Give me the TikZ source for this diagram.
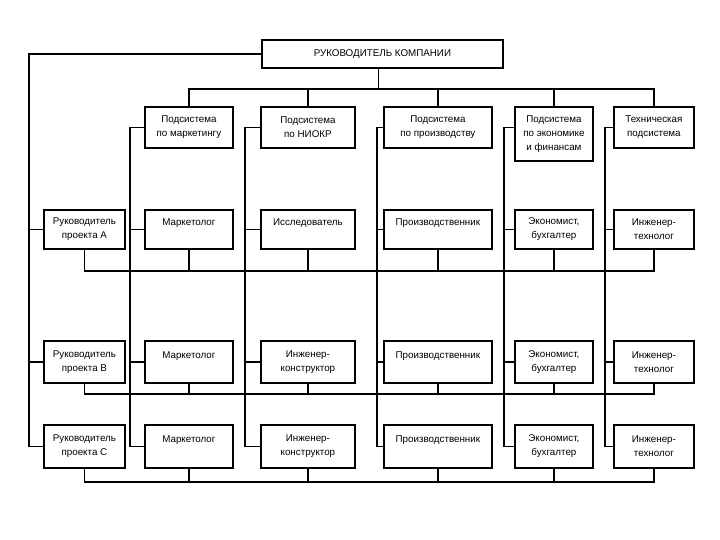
\documentclass[tikz,border=0pt]{standalone}
\usepackage{fontspec}
\setmainfont{Liberation Sans}
\usetikzlibrary{positioning, calc}

\tikzset{
  unit/.style={draw, line width=1.8pt, anchor=north west, inner sep=1pt, align=center,
    font=\fontsize{9.8}{14}\selectfont},
  link/.style={line width=1.5pt},
}

\begin{document}
\begin{tikzpicture}[x=1pt, y=-1pt]
\useasboundingbox (0,0) rectangle (720,540);

% head of the company
\node[unit, minimum width=241pt, minimum height=28pt] (ceo) at (261,39) {РУКОВОДИТЕЛЬ КОМПАНИИ};

% subsystems
\node[unit, minimum width=88pt, minimum height=41pt] (sysM) at (144,106) {Подсистема\\по маркетингу};
\node[unit, minimum width=94pt, minimum height=41pt] (sysN) at (260,106) {Подсистема\\по НИОКР};
\node[unit, minimum width=108pt, minimum height=41pt] (sysP) at (383,106) {Подсистема\\по производству};
\node[unit, minimum width=78pt, minimum height=54pt] (sysE) at (514,106) {Подсистема\\по экономике\\и финансам};
\node[unit, minimum width=80pt, minimum height=41pt] (sysT) at (613,106) {Техническая\\подсистема};

% project rows
\foreach \r/\y/\h/\p in {1/209/39/A, 2/340/42/B, 3/424/43/C} {
  \node[unit, minimum width=81pt, minimum height=\h pt] (head\r) at (43,\y) {Руководитель\\проекта \p};
  \node[unit, minimum width=88pt, minimum height=\h pt] (mar\r) at (144,\y) {Маркетолог\\\phantom{М}};
  \node[unit, minimum width=108pt, minimum height=\h pt] (pro\r) at (383,\y) {Производственник\\\phantom{П}};
  \node[unit, minimum width=78pt, minimum height=\h pt] (eco\r) at (514,\y) {Экономист,\\бухгалтер};
  \node[unit, minimum width=80pt, minimum height=\h pt] (tec\r) at (613,\y) {Инженер-\\технолог};
}
\node[unit, minimum width=94pt, minimum height=39pt] (nio1) at (260,209) {Исследователь\\\phantom{И}};
\node[unit, minimum width=94pt, minimum height=42pt] (nio2) at (260,340) {Инженер-\\конструктор};
\node[unit, minimum width=94pt, minimum height=43pt] (nio3) at (260,424) {Инженер-\\конструктор};

% top bus
\coordinate (bus) at ($(ceo.south)+(-4,20)$);
\draw[link] (ceo.south -| bus) -- (bus);
\draw[link] (sysM.north) |- (bus) -| (sysT.north);
\foreach \s in {sysN, sysP, sysE}
  \draw[link] (\s.north) -- (\s.north |- bus);

% line of the head to project leaders
\draw[link] (ceo.west) -| ($(head3.west)+(-14,0)$) -- (head3.west);
\draw[link] ($(head1.west)+(-14,0)$) -- (head1.west);
\draw[link] ($(head2.west)+(-14,0)$) -- (head2.west);

% columns of the subsystems
\foreach \s/\n/\o in {sysM/mar/14, sysN/nio/15, sysP/pro/6, sysE/eco/10, sysT/tec/8} {
  \draw[link] (\s.west |- sysP.west) -| ($(\n3.west)+(-\o,0)$) -- (\n3.west);
  \draw[link] ($(\n1.west)+(-\o,0)$) -- (\n1.west);
  \draw[link] ($(\n2.west)+(-\o,0)$) -- (\n2.west);
}

% project buses
\foreach \r/\d in {1/21, 2/10, 3/13} {
  \draw[link] (head\r.south) -- ++(0,\d) -| (tec\r.south);
  \foreach \n in {mar, nio, pro, eco}
    \draw[link] (\n\r.south) -- ++(0,\d);
}
\end{tikzpicture}
\end{document}
